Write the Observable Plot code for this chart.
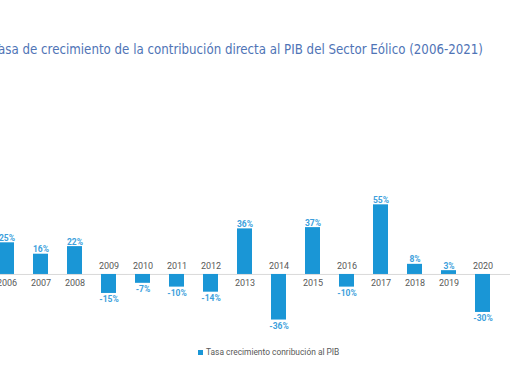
<!DOCTYPE html>
<html>
<head>
<meta charset="utf-8">
<script src="https://cdn.jsdelivr.net/npm/d3@7"></script>
<script src="https://cdn.jsdelivr.net/npm/@observablehq/plot@0.6"></script>
<style>
  html, body { margin: 0; padding: 0; background: #fff; }
  #frame { position: relative; width: 510px; height: 382px; overflow: hidden; background: #fff; }
  #title { position: absolute; left: -7px; top: 41px; white-space: nowrap;
           font-family: "DejaVu Sans Condensed", "DejaVu Sans", sans-serif; font-size: 14px;
           color: #4f74b6; transform-origin: 0 0; }
  #chart { position: absolute; left: -20px; top: 70px; width: 560px; height: 260px; }
  #chart svg { max-width: none !important; }
  #legend { position: absolute; left: 198px; top: 347px; font-family: Roboto, sans-serif;
            font-size: 8.4px; color: #595959; white-space: nowrap; display: flex; align-items: center; }
  #legend .sw { display: inline-block; width: 5px; height: 5px; background: #1a96d6; margin-right: 3px; }
</style>
</head>
<body>
<div id="frame">
  <div id="title">Tasa de crecimiento de la contribución directa al PIB del Sector Eólico (2006-2021)</div>
  <div id="chart"></div>
  <div id="legend"><span class="sw"></span><span>Tasa crecimiento conribución al PIB</span></div>
</div>
<script>
const years = ["2006","2007","2008","2009","2010","2011","2012","2013","2014","2015","2016","2017","2018","2019","2020","2021"];
const shownYears = ["2006","2007","2008","2009","2010","2011","2012","2013","2014","2015","2016","2017","2018","2019","2020"];
const growth = [25, 16, 22, -15, -7, -10, -14, 36, -36, 37, -10, 55, 8, 3, -30];

const data = shownYears.map((y, i) => ({year: y, value: growth[i]}));
const pos = data.filter(d => d.value >= 0);
const neg = data.filter(d => d.value < 0);

const barColor = "#1a96d6";
const labelColor = "#3d9fdc";

const chart = Plot.plot({
  width: 560,
  height: 260,
  marginLeft: 8.3,
  marginRight: 5.3,
  marginTop: 128,
  marginBottom: 5.4,
  x: {domain: years, paddingInner: 0.56, paddingOuter: 0.28, axis: null},
  y: {domain: [-40, 60], axis: null},
  style: {background: "transparent", fontFamily: "Roboto, sans-serif", overflow: "visible"},
  marks: [
    Plot.ruleY([0], {stroke: "#d9d9d9", strokeWidth: 1}),
    Plot.barY(data, {x: "year", y: "value", fill: barColor}),
    Plot.text(pos, {x: "year", y: "value", text: d => d.value + "%", lineAnchor: "bottom", dy: -2,
      fill: labelColor, fontWeight: "bold", fontSize: 8.5}),
    Plot.text(neg, {x: "year", y: "value", text: d => d.value + "%", lineAnchor: "top", dy: 3,
      fill: labelColor, fontWeight: "bold", fontSize: 8.5}),
    Plot.text(pos, {x: "year", y: 0, text: "year", dy: 9, fill: "#595959", fontSize: 9}),
    Plot.text(neg, {x: "year", y: 0, text: "year", dy: -8, fill: "#595959", fontSize: 9})
  ]
});
document.getElementById("chart").appendChild(chart);

const t = document.getElementById("title");
const w = t.getBoundingClientRect().width;
t.style.transform = `scaleX(${490 / w})`;
</script>
</body>
</html>
